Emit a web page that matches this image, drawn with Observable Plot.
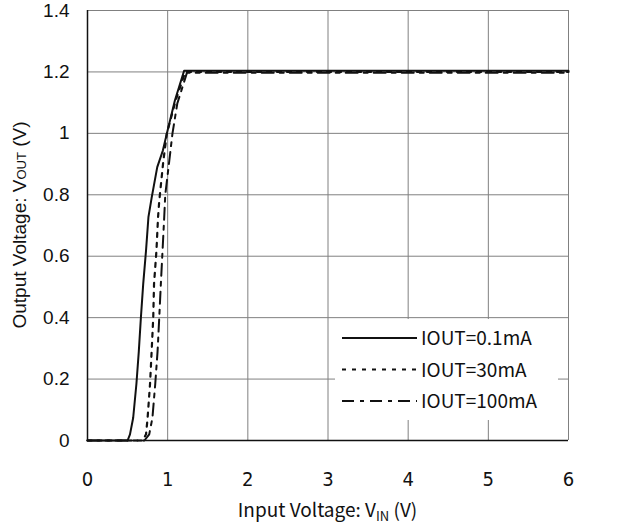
<!DOCTYPE html>
<html>
<head>
<meta charset="utf-8">
<script src="https://cdn.jsdelivr.net/npm/d3@7"></script>
<script src="https://cdn.jsdelivr.net/npm/@observablehq/plot@0.6"></script>
<style>
  html, body { margin: 0; padding: 0; background: #fff; }
  #chart svg { display: block; }
</style>
</head>
<body>
<div id="chart"></div>
<script>
// ---- data ----
const xTicks = [0, 1, 2, 3, 4, 5, 6];
const yTicks = [0, 0.2, 0.4, 0.6, 0.8, 1.0, 1.2, 1.4];
const yTickLabels = ["0", "0.2", "0.4", "0.6", "0.8", "1", "1.2", "1.4"];

const seriesNames = ["IOUT=0.1mA", "IOUT=30mA", "IOUT=100mA"];

const vin01  = [0, 0.50, 0.53, 0.57, 0.61, 0.64, 0.666, 0.695, 0.73, 0.76, 0.80, 0.87, 0.94, 0.99, 1.09, 1.205, 6];
const vout01 = [0, 0, 0.02, 0.074, 0.184, 0.29, 0.40, 0.51, 0.618, 0.727, 0.79, 0.89, 0.944, 1.0, 1.107, 1.204, 1.204];

const vin30  = [0, 0.69, 0.73, 0.75, 0.78, 0.80, 0.82, 0.83, 0.86, 0.88, 0.895, 0.946, 0.99, 1.10, 1.22, 6];
const vout30 = [0, 0, 0.02, 0.074, 0.184, 0.29, 0.40, 0.51, 0.618, 0.727, 0.78, 0.91, 1.0, 1.107, 1.2, 1.2];

const vin100  = [0, 0.71, 0.77, 0.81, 0.845, 0.874, 0.895, 0.915, 0.936, 0.957, 0.97, 1.02, 1.06, 1.12, 1.24, 6];
const vout100 = [0, 0, 0.02, 0.074, 0.184, 0.29, 0.40, 0.51, 0.618, 0.727, 0.80, 0.91, 1.0, 1.097, 1.197, 1.197];

// ---- build tables ----
const toRows = (xs, ys) => xs.map((x, i) => ({vin: x, vout: ys[i]}));
const d01 = toRows(vin01, vout01);
const d30 = toRows(vin30, vout30);
const d100 = toRows(vin100, vout100);

const styles = [
  {dash: null, width: 2},
  {dash: "4,6", width: 2.2},
  {dash: "12,6,4,6", width: 2}
];

const plot = Plot.plot({
  width: 630,
  height: 526,
  marginLeft: 87,
  marginRight: 62,
  marginTop: 10,
  marginBottom: 86,
  style: {background: "#fff", fontFamily: "'Liberation Sans', Arial, sans-serif"},
  x: {domain: [0, 6]},
  y: {domain: [0, 1.4]},
  marks: [
    Plot.ruleX(xTicks, {stroke: "#808080", strokeWidth: 1}),
    Plot.ruleY(yTicks, {stroke: "#808080", strokeWidth: 1}),
    Plot.line(d30, {x: "vin", y: "vout", stroke: "#111", strokeWidth: styles[1].width, strokeDasharray: styles[1].dash}),
    Plot.line(d100, {x: "vin", y: "vout", stroke: "#111", strokeWidth: styles[2].width, strokeDasharray: styles[2].dash}),
    Plot.line(d01, {x: "vin", y: "vout", stroke: "#111", strokeWidth: styles[0].width}),
    Plot.ruleX([0], {stroke: "#111", strokeWidth: 1.5}),
    Plot.ruleY([0], {stroke: "#111", strokeWidth: 1.5}),
    Plot.axisX({ticks: xTicks, tickSize: 0, tickPadding: 31, fontSize: 20,
      fontFamily: "'DejaVu Sans Condensed', 'Liberation Sans', sans-serif", fill: "#111", label: null,
      tickFormat: d => String(d)}),
    Plot.axisY({ticks: yTicks, tickSize: 0, tickPadding: 18, fontSize: 19,
      fontFamily: "'Liberation Sans', Arial, sans-serif", fill: "#111", label: null,
      tickFormat: (d, i) => yTickLabels[i]})
  ]
});

document.getElementById("chart").appendChild(plot);

// ---- axis titles and legend (layout elements) ----
const svg = d3.select(plot);
const xs = plot.scale("x"), ys = plot.scale("y");
const cx = (xs.apply(0) + xs.apply(6)) / 2;
const cy = (ys.apply(0) + ys.apply(1.4)) / 2;

// x title
const xt = svg.append("text")
  .attr("x", cx).attr("y", 517)
  .attr("text-anchor", "middle")
  .attr("font-family", "'Noto Sans CJK JP', 'DejaVu Sans', sans-serif")
  .attr("font-size", 19).attr("fill", "#111");
xt.append("tspan").text("Input Voltage: V");
xt.append("tspan").attr("font-size", 13).attr("dy", 4).text("IN");
xt.append("tspan").attr("dy", -4).text(" (V)");

// y title
const yt = svg.append("text")
  .attr("transform", `translate(26,${cy}) rotate(-90)`)
  .attr("text-anchor", "middle")
  .attr("font-family", "'Liberation Sans', Arial, sans-serif")
  .attr("font-size", 19).attr("fill", "#111");
yt.append("tspan").text("Output Voltage: V");
yt.append("tspan").attr("font-size", 13).text("OUT");
yt.append("tspan").text(" (V)");

// legend
const lg = svg.append("g").attr("text-anchor", "start");
lg.append("rect").attr("x", 335).attr("y", 319).attr("width", 223).attr("height", 101).attr("fill", "#fff");
seriesNames.forEach((name, i) => {
  const yy = 338 + i * 31.5;
  lg.append("line")
    .attr("x1", 342).attr("x2", 417).attr("y1", yy).attr("y2", yy)
    .attr("stroke", "#111").attr("stroke-width", styles[i].width)
    .attr("stroke-dasharray", styles[i].dash);
  lg.append("text")
    .attr("x", 421).attr("y", yy + 7)
    .attr("text-anchor", "start")
    .attr("font-family", "'Noto Sans CJK JP', 'DejaVu Sans', sans-serif")
    .attr("font-size", 19).attr("fill", "#111")
    .text(name);
});
</script>
</body>
</html>
